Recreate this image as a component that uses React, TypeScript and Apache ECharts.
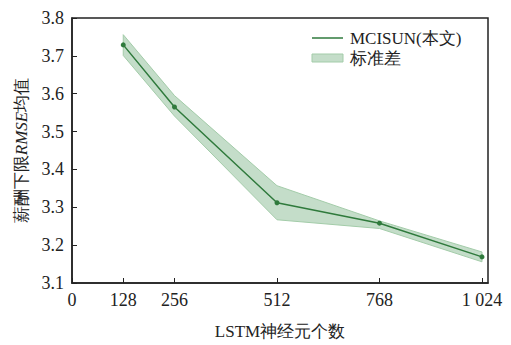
import React, { useEffect, useRef } from "react";
import * as echarts from "echarts";

const xValues = [128, 256, 512, 768, 1024];
const meanValues = [3.729, 3.565, 3.312, 3.258, 3.169];
const upperValues = [3.756, 3.595, 3.357, 3.264, 3.182];
const lowerValues = [3.701, 3.541, 3.267, 3.244, 3.156];
const xTickValues = [0, 128, 256, 512, 768, 1024];
const lineName = "MCISUN(本文)";
const bandName = "标准差";

const FONT = "Liberation Serif";
const LINE_COLOR = "#2f7a3c";
const BAND_FILL = "rgba(125, 180, 135, 0.45)";
const BAND_EDGE = "#a3cca9";
const AXIS = "#222";

export default function App() {
  const ref = useRef<HTMLDivElement>(null);
  useEffect(() => {
    const chart = echarts.init(ref.current!, null, { renderer: "svg" });
    const meanData = xValues.map((x, i) => [x, meanValues[i]]);
    const bandData = xValues.map((x, i) => [x, lowerValues[i], upperValues[i]]);
    chart.setOption({
      animation: false,
      textStyle: { fontFamily: FONT },
      grid: {
        left: 72,
        right: 23,
        top: 18,
        bottom: 59,
        show: true,
        borderColor: AXIS,
        borderWidth: 1.5,
      },
      xAxis: {
        type: "value",
        min: 0,
        max: 1039,
        name: "LSTM神经元个数",
        nameLocation: "middle",
        nameGap: 40,
        nameTextStyle: { fontFamily: FONT, fontSize: 17, color: AXIS },
        axisLine: { lineStyle: { color: AXIS, width: 1.5 } },
        axisTick: { inside: true, length: 5, customValues: xTickValues, lineStyle: { color: AXIS } },
        axisLabel: {
          customValues: xTickValues,
          fontFamily: FONT,
          fontSize: 18,
          color: AXIS,
          margin: 8,
          formatter: (v: number) => (v >= 1000 ? String(v).replace(/^(\d)(\d{3})$/, "$1 $2") : String(v)),
        },
        splitLine: { show: false },
      },
      yAxis: {
        type: "value",
        min: 3.1,
        max: 3.8,
        interval: 0.1,
        name: "{a|薪酬下限}{b|RMSE}{a|均值}",
        nameLocation: "middle",
        nameGap: 42,
        nameTextStyle: {
          rich: {
            a: { fontFamily: FONT, fontSize: 17, color: AXIS },
            b: { fontFamily: FONT, fontSize: 17, fontStyle: "italic", color: AXIS },
          },
        },
        axisLine: { lineStyle: { color: AXIS, width: 1.5 } },
        axisTick: { inside: true, length: 5, lineStyle: { color: AXIS } },
        axisLabel: {
          fontFamily: FONT,
          fontSize: 18,
          color: AXIS,
          margin: 8,
          formatter: (v: number) => v.toFixed(1),
        },
        splitLine: { show: false },
      },
      series: [
        {
          type: "custom",
          name: bandName,
          data: bandData,
          silent: true,
          encode: { x: 0, y: [1, 2] },
          renderItem: (params: any, api: any) => {
            if (params.dataIndex !== 0) return { type: "group", children: [] };
            const pts: number[][] = [];
            for (let i = 0; i < xValues.length; i++) pts.push(api.coord([xValues[i], upperValues[i]]));
            for (let i = xValues.length - 1; i >= 0; i--) pts.push(api.coord([xValues[i], lowerValues[i]]));
            return {
              type: "polygon",
              shape: { points: pts },
              style: { fill: BAND_FILL, stroke: BAND_EDGE, lineWidth: 1 },
            };
          },
        },
        {
          type: "line",
          name: lineName,
          data: meanData,
          symbol: "circle",
          symbolSize: 5,
          itemStyle: { color: LINE_COLOR },
          lineStyle: { color: LINE_COLOR, width: 1.5 },
        },
      ],
      graphic: [
        {
          type: "line",
          shape: { x1: 312, y1: 38, x2: 343, y2: 38 },
          style: { stroke: LINE_COLOR, lineWidth: 1.5 },
        },
        {
          type: "text",
          x: 350,
          y: 38,
          style: { text: lineName, fontFamily: FONT, fontSize: 17, fill: AXIS, verticalAlign: "middle" },
        },
        {
          type: "rect",
          shape: { x: 312, y: 54, width: 31, height: 8 },
          style: { fill: BAND_FILL, stroke: BAND_EDGE, lineWidth: 1 },
        },
        {
          type: "text",
          x: 350,
          y: 58,
          style: { text: bandName, fontFamily: FONT, fontSize: 17, fill: AXIS, verticalAlign: "middle" },
        },
      ],
    });
    return () => chart.dispose();
  }, []);
  return <div ref={ref} style={{ width: 511, height: 345, position: "absolute", left: 0, top: 0 }} />;
}
